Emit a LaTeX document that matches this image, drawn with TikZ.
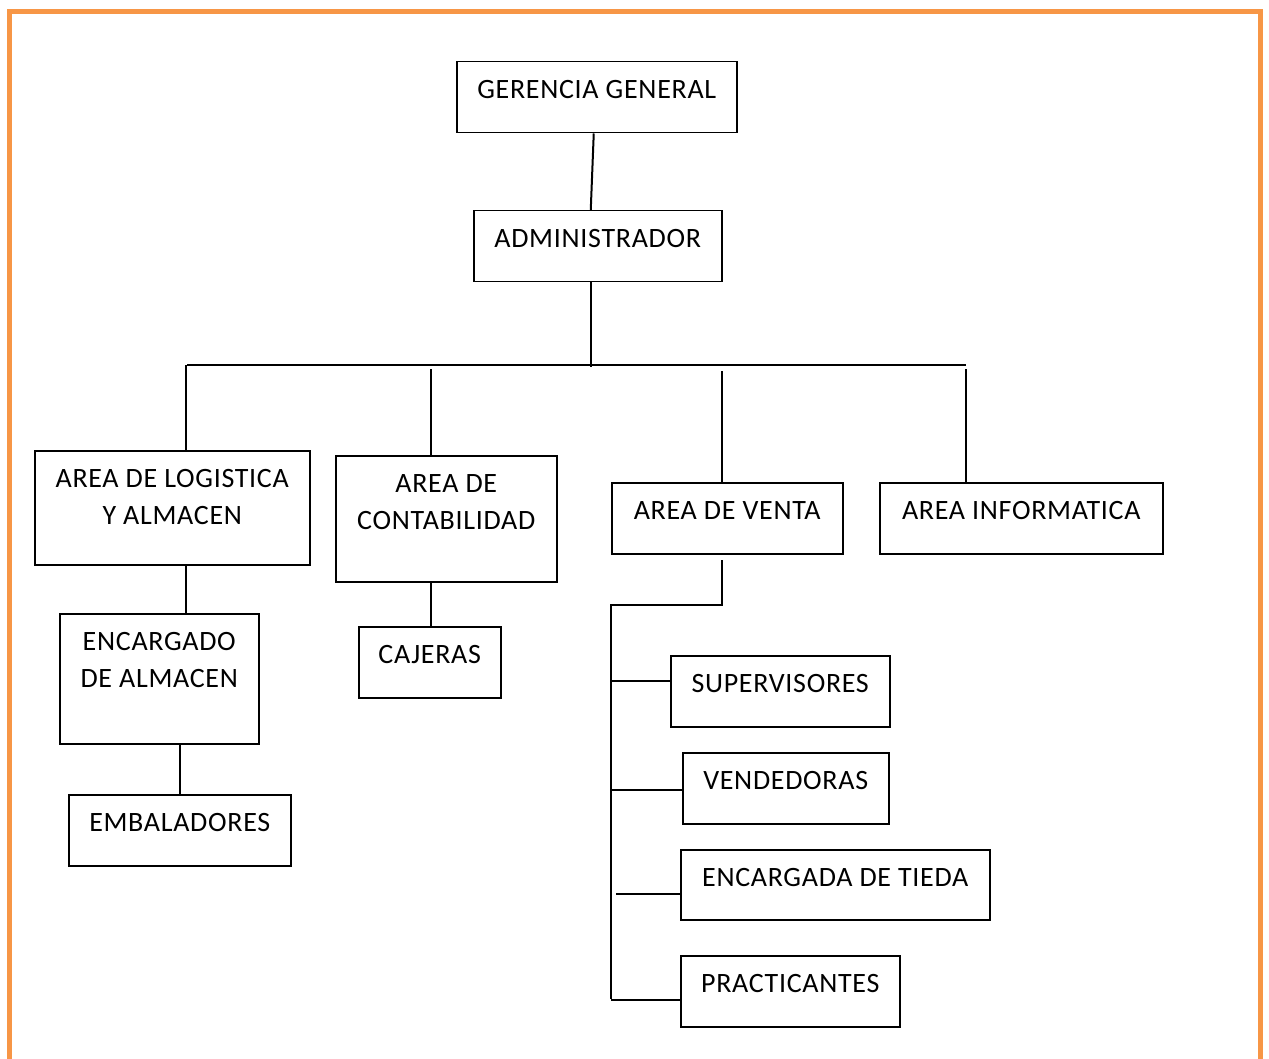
\documentclass[tikz,border=0pt]{standalone}
\usepackage{fontspec}
\setmainfont{Carlito}[LetterSpace=2.5]
\definecolor{frameorange}{HTML}{F79646}

\begin{document}
\begin{tikzpicture}[x=0.5pt, y=-0.5pt, line join=miter,
    box/.style={draw, line width=0.75pt, inner sep=0pt, anchor=north west, minimum height=35.5pt},
    txt/.style={anchor=north, yshift=-9.6pt, inner sep=0pt, align=center, font=\fontsize{14pt}{18.25pt}\selectfont},
    link/.style={line width=1pt}]
        \useasboundingbox (0,0) rectangle (1269,1059);
        \draw[frameorange, line width=2.5pt] (9.5,1075) |- (1260,11.5) -- (1260,1075);

        \node[box, minimum width=140pt, label={[txt]north:GERENCIA GENERAL}] (ger) at (456, 61) {};
        \node[box, minimum width=124pt, label={[txt]north:ADMINISTRADOR}] (adm) at (473, 210) {};

        \node[box, minimum width=137.5pt, minimum height=57pt, label={[txt]north:AREA DE LOGISTICA\\Y ALMACEN}] (log) at (34, 450) {};
        \node[box, minimum width=110.5pt, minimum height=63pt, label={[txt]north:AREA DE\\CONTABILIDAD}] (con) at (335, 455) {};
        \node[box, minimum width=115.5pt, label={[txt]north:AREA DE VENTA}] (vta) at (611, 482) {};
        \node[box, minimum width=141.5pt, label={[txt]north:AREA INFORMATICA}] (inf) at (879, 482) {};

        \node[box, minimum width=99.5pt, minimum height=65pt, label={[txt]north:ENCARGADO\\DE ALMACEN}] (enc) at (59, 613) {};
        \node[box, minimum width=111pt, label={[txt]north:EMBALADORES}] (emb) at (68, 794) {};
        \node[box, minimum width=71pt, label={[txt]north:CAJERAS}] (caj) at (358, 626) {};

        \node[box, minimum width=109.5pt, label={[txt]north:SUPERVISORES}] (sup) at (670, 655) {};
        \node[box, minimum width=103pt, label={[txt]north:VENDEDORAS}] (vnd) at (682, 752) {};
        \node[box, minimum width=154.5pt, minimum height=35pt, label={[txt]north:ENCARGADA DE TIEDA}] (etd) at (680, 849) {};
        \node[box, minimum width=109.5pt, label={[txt]north:PRACTICANTES}] (pra) at (680, 955) {};

        % top levels
        \coordinate (gerB) at ([xshift=-1.5pt]ger.south);
        \coordinate (admT) at ([xshift=-3.5pt]adm.north);
        \coordinate (admB) at ([xshift=-3.5pt]adm.south);
        \coordinate (busL) at (187, 365);
        \coordinate (busR) at (966, 365);
        \draw[link] (gerB) -- (admT);
        \draw[link] (admB) -- ([yshift=-1pt]admB |- busL);
        \draw[link] (busL) -- (busR);

        % areas
        \coordinate (d1) at (186, 365);
        \coordinate (d2) at (431, 369);
        \coordinate (d3) at (722, 371);
        \coordinate (d4) at (966, 369);
        \draw[link] (d1) -- (d1 |- log.north);
        \draw[link] (d2) -- (d2 |- con.north);
        \draw[link] (d3) -- (d3 |- vta.north);
        \draw[link] (d4) -- (d4 |- inf.north);

        \draw[link] (d1 |- log.south) -- (d1 |- enc.north);
        \draw[link] (emb.north |- enc.south) -- (emb.north);
        \draw[link] (d2 |- con.south) -- (d2 |- caj.north);

        % venta
        \coordinate (v1) at (722, 560);
        \coordinate (v2) at (611, 605);
        \coordinate (v3) at (611, 999);
        \draw[link] (v1) |- (v2) -- (v3);
        \foreach \n/\dy/\len in {sup/5.25/29.5, vnd/-0.75/35.5, etd/-4.5/32, pra/-4.25/34.5}
            \draw[link] ([yshift=\dy pt]\n.west) -- ++(-\len pt, 0);
    \end{tikzpicture}
\end{document}
